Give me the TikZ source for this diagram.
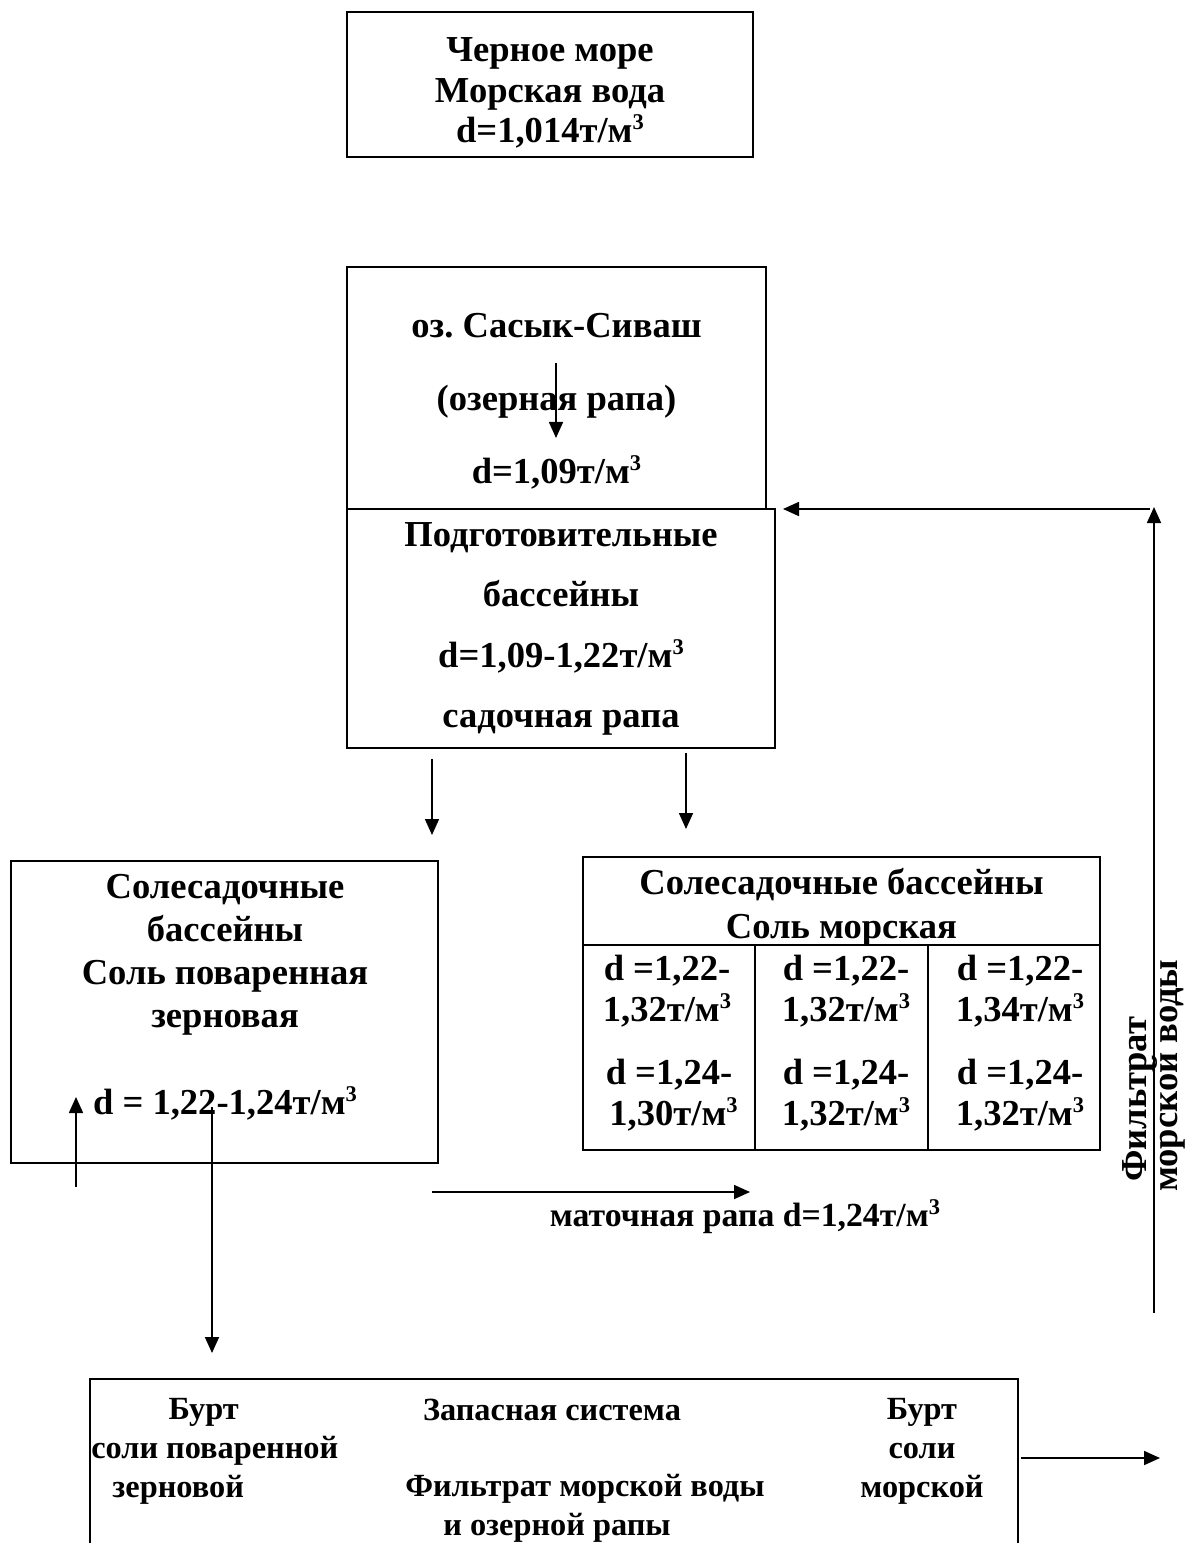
\documentclass[tikz,border=0pt]{standalone}
\usepackage{fontspec}
\setmainfont{Liberation Serif}
\usetikzlibrary{arrows.meta,positioning,calc}
\frenchspacing

\newcommand{\tmc}{т/м\raisebox{0.36em}{\fontsize{16}{16}\selectfont 3}}

\tikzset{
  blk/.style={draw, line width=1.6pt, inner sep=0pt},
  big/.style={align=center, inner sep=0pt, font=\bfseries\fontsize{26}{29}\selectfont},
  small/.style={inner sep=0pt, font=\bfseries\fontsize{23}{27.7}\selectfont},
  arr/.style={line width=1.2pt, -{Triangle[length=0.4cm,width=0.35cm]}}
}

\begin{document}
\begin{tikzpicture}[x=0.025cm,y=-0.025cm]
  \useasboundingbox (0,0) rectangle (1185,1543);

  \node[blk, minimum width=10.15cm, minimum height=3.625cm] (sea) at (550,84.5) {};
  \node[big] (seatxt) at (550,93) {Черное море\\Морская вода\\d=1,014\tmc};

  \node[blk, minimum width=10.475cm, minimum height=6.05cm] (lake) at (556.5,388) {};
  \node[big, font=\bfseries\fontsize{26}{51.9}\selectfont] (laketxt) at (556.5,401)
    {оз. Сасык-Сиваш\\(озерная рапа)\\d=1,09\tmc};

  \node[blk, minimum width=10.7cm, minimum height=5.975cm] (prep) at (561,628.5) {};
  \node[big, font=\bfseries\fontsize{26}{42.9}\selectfont] (preptxt) at (561,629)
    {Подготовительные\\бассейны\\d=1,09-1,22\tmc\\садочная рапа};

  \node[blk, minimum width=10.675cm, minimum height=7.55cm] (grain) at (224.5,1012) {};
  \node[big, font=\bfseries\fontsize{26}{30.8}\selectfont] (graintxt) at (225,997)
    {Солесадочные\\бассейны\\Соль поваренная\\зерновая\\[30.8pt]d = 1,22-1,24\tmc};

  % таблица морской соли
  \node[blk, minimum width=12.925cm, minimum height=7.325cm] (seasalt) at (841.5,1003.5) {};
  \draw[line width=1.6pt] (583,945) -- (1100,945);
  \draw[line width=1.6pt] (755,945) -- (755,1150);
  \draw[line width=1.6pt] (928,945) -- (928,1150);
  \node[big, font=\bfseries\fontsize{26}{31.3}\selectfont] (headtxt) at (841.5,907)
    {Солесадочные бассейны\\Соль морская};
  \node[big] (c11) at (667,991) {d =1,22-\\1,32\tmc};
  \node[big] (c12) at (846,991) {d =1,22-\\1,32\tmc};
  \node[big] (c13) at (1020,991) {d =1,22-\\1,34\tmc};
  \node[big] (c21) at (669,1095) {d =1,24-\\\ 1,30\tmc};
  \node[big] (c22) at (846,1095) {d =1,24-\\1,32\tmc};
  \node[big] (c23) at (1020,1095) {d =1,24-\\1,32\tmc};

  % склад
  \node[blk, minimum width=23.2cm, minimum height=5.525cm] (store) at (554,1489.5) {};
  \node[small, align=left, anchor=west] (leftpile) at (91,1451)
    {\hspace{1.93cm}Бурт\\соли поваренной\\\hspace{0.53cm}зерновой};
  \node[small] (reserve) at (552,1410) {Запасная система};
  \node[small, align=left, anchor=west] (filt) at (405,1508)
    {Фильтрат морской воды\\\hspace{0.95cm}и озерной рапы};
  \node[small, align=center] (rightpile) at (922,1451) {Бурт\\соли\\морской};

  % стрелки
  \coordinate (l1) at (556,363);  \coordinate (l2) at (556,438);
  \coordinate (p1) at (432,759);  \coordinate (p2) at (432,835);
  \coordinate (p3) at (686,753);  \coordinate (p4) at (686,829);
  \coordinate (g1) at (76,1187);  \coordinate (g2) at (76,1097);
  \coordinate (g3) at (212,1107); \coordinate (g4) at (212,1353);
  \coordinate (m1) at (432,1192); \coordinate (m2) at (750,1192);
  \coordinate (s1) at (1021,1458); \coordinate (s2) at (1160,1458);
  \coordinate (f1) at (1154,1313); \coordinate (f2) at (1154,507);
  \coordinate (f3) at (1150,509);  \coordinate (f4) at (783,509);

  \draw[arr] (l1) -- (l2);
  \draw[arr] (p1) -- (p2);
  \draw[arr] (p3) -- (p4);
  \draw[arr] (g1) -- (g2);
  \draw[arr] (g3) -- (g4);
  \draw[arr] (m1) -- (m2);
  \node[big, font=\bfseries\fontsize{24}{28}\selectfont] (mlabel) at (745,1217) {маточная рапа d=1,24\tmc};
  \draw[arr] (s1) -- (s2);
  \draw[arr] (f1) -- (f2);
  \draw[arr] (f3) -- (f4);

  \node[big, rotate=90, anchor=base west] (filtv1) at (1146,1182) {Фильтрат};
  \node[big, rotate=90, anchor=base west] (filtv2) at (1177,1192) {морской воды};
\end{tikzpicture}
\end{document}
